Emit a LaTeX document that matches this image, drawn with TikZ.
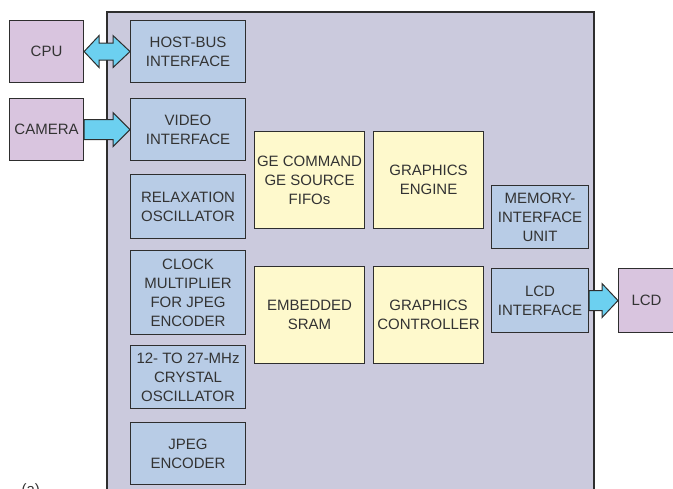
\documentclass[tikz,border=0pt]{standalone}
\usepackage{fontspec}
\setmainfont{Liberation Sans}
\usetikzlibrary{calc, positioning}
\definecolor{lila}{HTML}{CBCADD}
\definecolor{azul}{HTML}{B8CCE6}
\definecolor{amarillo}{HTML}{FEF9CC}
\definecolor{malva}{HTML}{D9C5DF}
\definecolor{cian}{HTML}{6CD0F0}
\definecolor{linea}{HTML}{2E2E2E}
\definecolor{texto}{HTML}{333333}
\tikzstyle{bloque} = [draw=linea, line width=1.1pt, rectangle, anchor=north west, align=center, inner sep=1pt, text=texto, font=\fontsize{15}{19}\selectfont]
\tikzstyle{interno} = [bloque, fill=azul]
\tikzstyle{motor} = [bloque, fill=amarillo, minimum width=110pt, minimum height=97pt]
\tikzstyle{externo} = [bloque, fill=malva]
\tikzstyle{flecha} = [draw=linea, fill=cian, line width=1pt, line join=miter]

\begin{document}
\begin{tikzpicture}[x=1pt, y=-1pt]
	\useasboundingbox (0,0) rectangle (673,488);
	\clip (0,0) rectangle (673,488);
	\draw[draw=linea, fill=lila, line width=1.6pt] (107,12) rectangle (594,510);
	\node[externo, minimum width=74pt, minimum height=62pt] (cpu) at (9,20) {CPU};
	\node[externo, minimum width=74pt, minimum height=62pt] (camera) at (9,98) {CAMERA};
	\node[interno, minimum width=115pt, minimum height=62pt] (host) at (130,20) {HOST-BUS\\INTERFACE};
	\node[interno, minimum width=115pt, minimum height=62pt] (video) at (130,98) {VIDEO\\INTERFACE};
	\node[interno, minimum width=115pt, minimum height=64pt] (relax) at (130,174) {RELAXATION\\OSCILLATOR};
	\node[interno, minimum width=115pt, minimum height=84pt] (clock) at (130,250) {CLOCK\\MULTIPLIER\\FOR JPEG\\ENCODER};
	\node[interno, minimum width=115pt, minimum height=63pt] (crystal) at (130,345) {12- TO 27-MHz\\CRYSTAL\\OSCILLATOR};
	\node[interno, minimum width=115pt, minimum height=62pt] (jpeg) at (130,422) {JPEG\\ENCODER};
	\node[motor] (fifos) at (254,131) {GE COMMAND\\GE SOURCE\\FIFOs};
	\node[motor] (engine) at (373,131) {GRAPHICS\\ENGINE};
	\node[motor] (sram) at (254,266) {EMBEDDED\\SRAM};
	\node[motor] (controller) at (373,266) {GRAPHICS\\CONTROLLER};
	\node[interno, minimum width=97pt, minimum height=63pt] (memory) at (491,185) {MEMORY-\\INTERFACE\\UNIT};
	\node[interno, minimum width=97pt, minimum height=64pt] (lcdif) at (491,268) {LCD\\INTERFACE};
	\node[externo, minimum width=70pt, minimum height=64pt, text width=45pt, align=left, inner xsep=13pt] (lcd) at (618,268) {LCD};
	\node[anchor=north west, text=texto, font=\fontsize{15}{17}\selectfont] (etiqueta) at (18,480) {(a)};
	\draw[flecha] (cpu.east) -- ++(15,-16) -- ++(0,7.5) -- ($(host.west)+(-17,-8.5)$) -- ++(0,-7.5) -- (host.west) -- ++(-17,16) -- ++(0,-7.5) -- ($(cpu.east)+(15,8.5)$) -- ++(0,7.5) -- cycle;
	\draw[flecha] ($(camera.east)+(0,-10)$) -- ($(video.west)+(-17,-10)$) -- ++(0,-7) -- (video.west) -- ++(-17,17) -- ++(0,-7) -- ($(camera.east)+(0,10)$) -- cycle;
	\draw[flecha] ($(lcdif.east)+(0,-10)$) -- ($(lcd.west)+(-16,-10)$) -- ++(0,-7) -- (lcd.west) -- ++(-16,17) -- ++(0,-7) -- ($(lcdif.east)+(0,10)$) -- cycle;
\end{tikzpicture}
\end{document}
